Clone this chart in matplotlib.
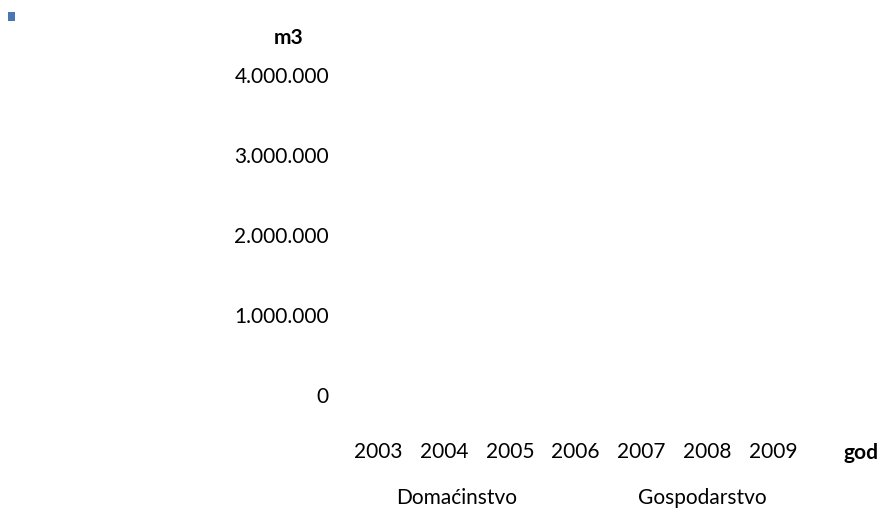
import numpy as np
import matplotlib.pyplot as plt
from matplotlib.patches import Rectangle
from matplotlib.ticker import FuncFormatter

plt.rcParams['font.family'] = ['Lato', 'DejaVu Sans']

years = ['2003', '2004', '2005', '2006', '2007', '2008', '2009']
# bars are not visible in the picture -> zero height
domacinstvo = [0, 0, 0, 0, 0, 0, 0]
gospodarstvo = [0, 0, 0, 0, 0, 0, 0]
yticks = [0, 1000000, 2000000, 3000000, 4000000]

fs = 15
fig = plt.figure(figsize=(8.83, 5.10), dpi=100)
ax = fig.add_axes([0.3914, 0.2255, 0.5212, 0.6275])

x = np.arange(len(years))
w = 0.35
ax.bar(x - w/2, domacinstvo, w, facecolor='none', edgecolor='none', label='Domaćinstvo')
ax.bar(x + w/2, gospodarstvo, w, facecolor='none', edgecolor='none', label='Gospodarstvo')

ax.set_xlim(-0.5, 6.5)
ax.set_ylim(0, 4000000)
ax.set_xticks(x)
ax.set_xticklabels(years, fontsize=fs)
ax.set_yticks(yticks)
ax.yaxis.set_major_formatter(FuncFormatter(lambda v, p: f'{int(v):,}'.replace(',', '.')))
ax.tick_params(axis='y', length=0, pad=12, labelsize=fs)
ax.tick_params(axis='x', length=0, pad=34, labelsize=fs)
for s in ax.spines.values():
    s.set_visible(False)

fig.text(289/883, 1-38/510, 'm3', fontsize=fs, fontweight='bold', ha='center', va='center')
fig.text(843/883, 1-453/510, 'god', fontsize=fs, fontweight='bold', ha='left', va='center')

leg = ax.legend(loc='center', bbox_to_anchor=(581/883, 1-498.5/510), bbox_transform=fig.transFigure,
                ncol=2, frameon=False, fontsize=fs, handlelength=0, handletextpad=0,
                columnspacing=5.8)

# small blue bullet top-left
fig.patches.append(Rectangle((8/883, 1-22/510), 7/883, 9/510, transform=fig.transFigure,
                             facecolor='#4a76b4', edgecolor='none'))

plt.savefig('out.png', dpi=100)
